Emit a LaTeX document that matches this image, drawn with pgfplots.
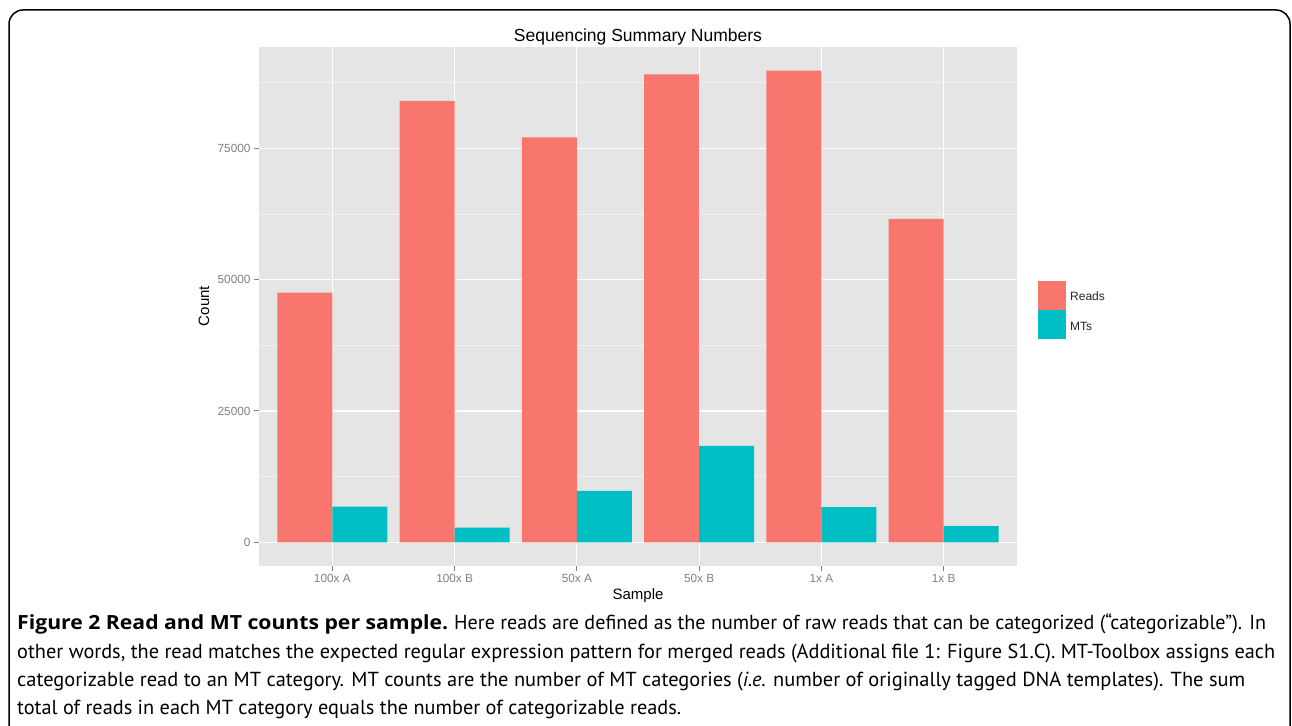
\documentclass[border=0pt]{standalone}
\usepackage{fontspec}
\setmainfont{Liberation Sans}
\newfontfamily\capfont{PT Sans}
\newfontfamily\capbold{Open Sans Bold}
\usepackage{pgfplots}
\pgfplotsset{compat=1.18}
\definecolor{readc}{HTML}{F8766D}
\definecolor{mtc}{HTML}{00BFC4}
\definecolor{ggbg}{HTML}{E5E5E5}
\definecolor{gg50}{HTML}{7F7F7F}
\definecolor{minorg}{HTML}{F2F2F2}
\newsavebox\capbox
\newcommand\fitline[2]{\sbox\capbox{#2}\pgfmathsetmacro\capsc{#1/\wd\capbox}\scalebox{\capsc}[1]{\usebox\capbox}}
\begin{document}
\begin{tikzpicture}[x=1pt,y=1pt]
\useasboundingbox (0,0) rectangle (1292,725);
\begin{scope}
\clip (0,0) rectangle (1292,725);
\draw[line width=1.5pt, rounded corners=14pt] (9,715) rectangle (1290,-30);
\end{scope}
\begin{axis}[at={(259pt,159pt)}, anchor=south west, scale only axis,
 width=758pt, height=519pt,
 xmin=-0.6, xmax=5.6, ymin=-4513, ymax=94307,
 axis background/.style={fill=ggbg},
 axis line style={draw=none},
 xtick={0,...,5}, xticklabels={100x A,100x B,50x A,50x B,1x A,1x B},
 ytick={0,25000,50000,75000},
 minor ytick={12500,37500,62500,87500},
 grid=both,
 major grid style={white, line width=1.2pt},
 minor grid style={minorg, line width=0.6pt},
 tick align=outside, tick pos=left,
 major tick length=5pt, minor tick length=0pt,
 tick style={gg50, line width=1pt},
 ticklabel style={font=\fontsize{11.8}{12}\selectfont, text=gg50},
 /pgf/number format/assume math mode=true,
 /pgf/number format/1000 sep={},
 scaled y ticks=false,
 ybar, bar width=0.45,
 ]
\addplot[fill=readc, draw=none, bar shift=-0.225] coordinates {(0,47525) (1,84025) (2,77113) (3,89070) (4,89794) (5,61557)};
\addplot[fill=mtc, draw=none, bar shift=0.225] coordinates {(0,6778) (1,2780) (2,9768) (3,18336) (4,6720) (5,3100)};
\end{axis}
% titles
\node[anchor=base, font=\fontsize{17.5}{20}\selectfont] at (638,683) {Sequencing Summary Numbers};
\node[font=\fontsize{15}{17}\selectfont] at (638,129) {Sample};
\node[rotate=90, font=\fontsize{15}{17}\selectfont] at (204,419) {Count};
% legend
\fill[readc] (1038,415) rectangle (1066,443.7);
\fill[mtc] (1038,386) rectangle (1066,415);
\node[anchor=west, inner sep=0pt, font=\fontsize{12}{14}\selectfont, text={black!85}] at (1070,429) {Reads};
\node[anchor=west, inner sep=0pt, font=\fontsize{12}{14}\selectfont, text={black!85}] at (1070,399) {MTs};
% caption
\begin{scope}[every node/.style={anchor=base west, inner sep=0pt, font=\capfont\fontsize{20.3}{24}\selectfont}]
\node at (17,95.5) {\fitline{431}{\capbold\fontsize{19.5}{24}\selectfont Figure 2 Read and MT counts per sample.}};
\node at (454,95.5) {\fitline{812}{Here reads are defined as the number of raw reads that can be categorized (“categorizable”). In}};
\node at (17,66.5) {\fitline{1258}{other words, the read matches the expected regular expression pattern for merged reads (Additional file 1: Figure S1.C). MT-Toolbox assigns each}};
\node at (17,38.5) {\fitline{1228}{categorizable read to an MT category. MT counts are the number of MT categories (\textit{i.e.} number of originally tagged DNA templates). The sum}};
\node at (17,10.5) {\fitline{664}{total of reads in each MT category equals the number of categorizable reads.}};
\end{scope}
\end{tikzpicture}
\end{document}
